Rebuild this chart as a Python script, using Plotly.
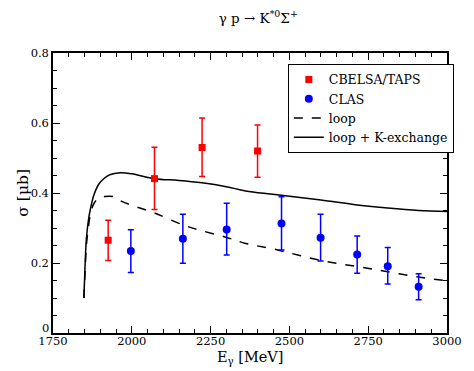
import plotly.graph_objects as go

# CBELSA/TAPS data
cb_E = [1925, 2072, 2223, 2399]
cb_s = [0.265, 0.441, 0.530, 0.520]
cb_up = [0.057, 0.090, 0.084, 0.074]
cb_dn = [0.058, 0.088, 0.083, 0.075]

# CLAS data
clas_E = [1997, 2162, 2301, 2475, 2599, 2715, 2812, 2910]
clas_s = [0.234, 0.269, 0.296, 0.313, 0.272, 0.224, 0.191, 0.132]
clas_up = [0.061, 0.070, 0.075, 0.076, 0.067, 0.053, 0.053, 0.037]
clas_dn = [0.061, 0.070, 0.073, 0.076, 0.066, 0.053, 0.051, 0.037]

# loop (dashed)
loop_E = [1848, 1852, 1856, 1862, 1870, 1880, 1895, 1915, 1940, 1968, 2000, 2072,
          2162, 2223, 2301, 2361, 2454, 2600, 2715, 2812, 2910, 3000]
loop_s = [0.10, 0.18, 0.25, 0.30, 0.345, 0.37, 0.385, 0.39, 0.39, 0.376, 0.365, 0.343,
          0.309, 0.292, 0.273, 0.256, 0.239, 0.207, 0.19, 0.175, 0.16, 0.149]

# loop + K-exchange (solid)
full_E = [1848, 1852, 1856, 1862, 1870, 1880, 1895, 1910, 1930, 1963, 2000, 2072,
          2150, 2223, 2300, 2361, 2454, 2600, 2715, 2812, 2910, 3000]
full_s = [0.10, 0.20, 0.27, 0.32, 0.36, 0.395, 0.425, 0.44, 0.452, 0.458, 0.455, 0.441,
          0.436, 0.429, 0.418, 0.406, 0.396, 0.38, 0.366, 0.357, 0.35, 0.347]

x_ticks = [1750, 2000, 2250, 2500, 2750, 3000]
y_ticks = [0.2, 0.4, 0.6, 0.8]
y_ticktext = ["0.2", "0.4", "0.6", "0.8"]

SERIF = "DejaVu Serif, serif"

fig = go.Figure()
fig.add_trace(go.Scatter(x=loop_E, y=loop_s, mode="lines", name="loop",
                         line=dict(color="black", width=1.5, dash="dash", shape="spline"),
                         legendrank=3))
fig.add_trace(go.Scatter(x=full_E, y=full_s, mode="lines", name="loop + K-exchange",
                         line=dict(color="black", width=1.5, shape="spline"), legendrank=4))
fig.add_trace(go.Scatter(x=cb_E, y=cb_s, mode="markers", name="CBELSA/TAPS",
                         marker=dict(symbol="square", color="#ff0000", size=7),
                         error_y=dict(type="data", array=cb_up, arrayminus=cb_dn,
                                      color="#ff0000", thickness=1.5, width=3),
                         legendrank=1))
fig.add_trace(go.Scatter(x=clas_E, y=clas_s, mode="markers", name="CLAS",
                         marker=dict(symbol="circle", color="#0000ff", size=8),
                         error_y=dict(type="data", array=clas_up, arrayminus=clas_dn,
                                      color="#0000ff", thickness=1.5, width=3),
                         legendrank=2))

axis_common = dict(showline=True, linecolor="black", linewidth=1.5, mirror="ticks",
                   ticks="inside", ticklen=7, tickcolor="black", tickwidth=1,
                   showgrid=False, zeroline=False,
                   tickfont=dict(family=SERIF, size=11.5, color="black"))

fig.update_xaxes(range=[1750, 3000], tickvals=x_ticks, ticklabelstandoff=-4,
                 minor=dict(dtick=50, tick0=1750, ticks="inside", ticklen=4, tickcolor="black"),
                 **axis_common)
fig.update_yaxes(range=[0, 0.8], tickvals=y_ticks, ticktext=y_ticktext,
                 minor=dict(dtick=0.05, tick0=0, ticks="inside", ticklen=4, tickcolor="black"),
                 **axis_common)

# page body has an 8px margin, so the figure is 8px smaller and margins 8px less
fig.update_layout(
    width=466, height=363,
    margin=dict(l=45, r=18, t=45, b=38),
    plot_bgcolor="white", paper_bgcolor="white",
    font=dict(family=SERIF, color="black"),
    title=dict(text="γ p → K<sup>*0</sup>Σ<sup>+</sup>", x=0.537, xanchor="center",
               y=0.972, yanchor="middle", font=dict(family=SERIF, size=13.5, color="black")),
    legend=dict(x=0.596, y=0.961, xanchor="left", yanchor="top",
                bordercolor="black", borderwidth=1, bgcolor="white",
                font=dict(family=SERIF, size=12.5, color="black"),
                tracegroupgap=0, itemwidth=30),
    showlegend=True,
    annotations=[
        dict(text="0", xref="paper", yref="paper", x=0, y=0, xanchor="right",
             yanchor="bottom", xshift=-2, yshift=-4, showarrow=False,
             font=dict(family=SERIF, size=11.5, color="black")),
        dict(text="E<sub>γ</sub> [MeV]", xref="paper", yref="paper", x=0.5, y=-0.088,
             xanchor="center", yanchor="middle", showarrow=False,
             font=dict(family=SERIF, size=14.5, color="black")),
        dict(text="σ [μb]", xref="paper", yref="paper", x=-0.077, y=0.5,
             xanchor="center", yanchor="middle", showarrow=False, textangle=-90,
             font=dict(family=SERIF, size=15.5, color="black")),
    ],
)

fig.write_html("out.html")
